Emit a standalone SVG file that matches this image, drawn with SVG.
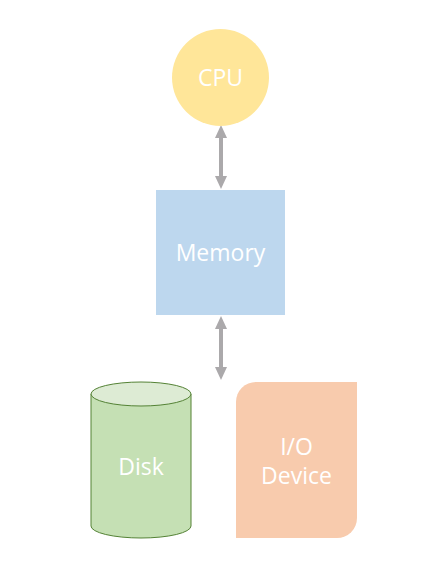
<svg xmlns="http://www.w3.org/2000/svg" width="446" height="586" viewBox="0 0 446 586">
<style>
.lbl{font-family:"Open Sans","DejaVu Sans",sans-serif;font-size:23px;fill:#FFFFFF;text-anchor:middle;}
.conn{stroke:#ABA9AB;stroke-width:4;fill:none;marker-start:url(#ah);marker-end:url(#ah);}
</style>
<defs>
<marker id="ah" viewBox="0 0 13 12" refX="2" refY="6" markerUnits="userSpaceOnUse" markerWidth="13" markerHeight="12" orient="auto-start-reverse">
<path d="M0,0 L13,6 L0,12 Z" fill="#ABA9AB"/>
</marker>
</defs>
<rect width="446" height="586" fill="#FFFFFF"/>
<g id="connectors">
<line class="conn" x1="221" y1="136" x2="221" y2="178"/>
<line class="conn" x1="221" y1="327" x2="221" y2="369"/>
</g>
<g id="cpu">
<circle cx="220.5" cy="77.5" r="48.5" fill="#FFE699"/>
<text class="lbl" x="220.5" y="86">CPU</text>
</g>
<g id="memory">
<rect x="156" y="190" width="129" height="125" fill="#BDD7EE"/>
<text class="lbl" x="220.5" y="261">Memory</text>
</g>
<g id="disk">
<path d="M91,394 L91,526 A50,12 0 0 0 191,526 L191,394" fill="#C5E0B4" stroke="#548235" stroke-width="1"/>
<ellipse cx="141" cy="394" rx="50" ry="12" fill="#DDEBD4" stroke="#548235" stroke-width="1"/>
<text class="lbl" x="141" y="475">Disk</text>
</g>
<g id="io">
<path d="M256,382 L357,382 L357,518 A20,20 0 0 1 337,538 L236,538 L236,402 A20,20 0 0 1 256,382 Z" fill="#F8CBAD"/>
<text class="lbl" x="296.5" y="455">I/O</text>
<text class="lbl" x="296.5" y="484">Device</text>
</g>
</svg>
